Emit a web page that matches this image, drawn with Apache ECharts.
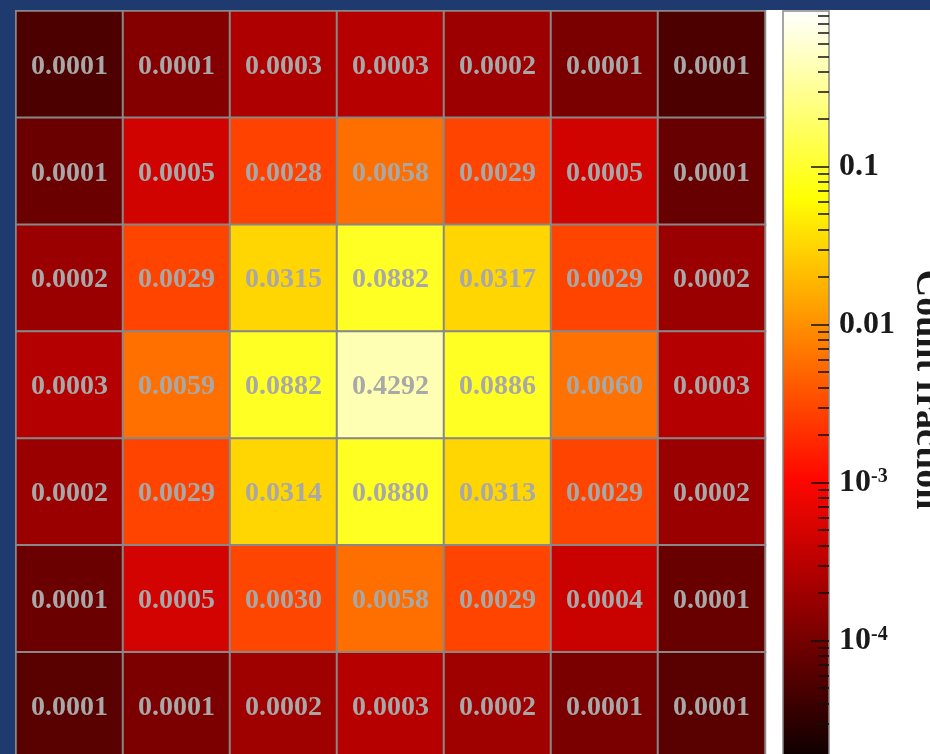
<!DOCTYPE html>
<html><head><meta charset="utf-8">
<script src="https://cdn.jsdelivr.net/npm/echarts@6/dist/echarts.min.js"></script>
<style>
html,body{margin:0;padding:0;width:930px;height:754px;overflow:hidden;background:#1e3a6e;}
#chart{position:absolute;left:15px;top:10px;width:915px;height:760px;background:#ffffff;}
</style></head><body><div id="chart"></div>
<script>
// Column / row categories (left to right, top to bottom)
const columns = ['1','2','3','4','5','6','7'];
const rows = ['1','2','3','4','5','6','7'];
// Count fraction per cell (estimated; labels show 4 decimals)
const row1 = [0.000052, 0.00013, 0.00026, 0.00029, 0.00019, 0.00011, 0.000053];
const row2 = [0.000086, 0.00047, 0.0028, 0.0058, 0.0029, 0.00047, 0.000080];
const row3 = [0.000185, 0.0029, 0.0315, 0.0882, 0.0317, 0.0029, 0.000185];
const row4 = [0.00028, 0.0059, 0.0882, 0.4292, 0.0886, 0.0060, 0.00028];
const row5 = [0.000185, 0.0029, 0.0314, 0.0880, 0.0313, 0.0029, 0.000185];
const row6 = [0.000084, 0.00048, 0.0030, 0.0058, 0.0029, 0.00041, 0.000082];
const row7 = [0.000064, 0.000115, 0.00020, 0.00029, 0.00020, 0.00011, 0.000064];
const tableRows = [row1, row2, row3, row4, row5, row6, row7];

// Colorbar: log10 range and tick labels
const cbMinExp = -4.749;
const cbMaxExp = -0.0146;
const majorTickExps = [-4, -3, -2, -1];
const majorTickLabels = ['10^-4', '10^-3', '0.01', '0.1'];
// "hot" colormap stops
const hotColors = ['#0b0000','#5e0000','#b20000','#ff0700','#ff5a00','#ffae00','#ffff04','#ffff82','#ffffff'];

const minorTickExps = [];
for (let n = -5; n <= -1; n++) {
  for (let k = 2; k <= 9; k++) {
    const v = n + Math.log10(k);
    if (v > cbMinExp + 0.06 && v < cbMaxExp) minorTickExps.push(v);
  }
}

const data = [];
tableRows.forEach((r, ri) => r.forEach((v, ci) => data.push([ci, ri, Math.log10(v), v])));

const serif = 'Liberation Serif';
const chart = echarts.init(document.getElementById('chart'), null, {renderer: 'canvas'});
chart.setOption({
  animation: false,
  grid: [
    {left: 1, top: 1, width: 749, height: 748, show: false},
    {left: 768, top: 1, width: 46, height: 748, show: true,
     backgroundColor: {type: 'linear', x: 0, y: 1, x2: 0, y2: 0,
       colorStops: hotColors.map((c, i) => ({offset: i / (hotColors.length - 1), color: c}))},
     borderColor: '#888', borderWidth: 1.5}
  ],
  xAxis: [
    {type: 'category', data: columns, gridIndex: 0, show: false},
    {type: 'value', gridIndex: 1, show: false, min: 1, max: 2}
  ],
  yAxis: [
    {type: 'category', data: rows, gridIndex: 0, show: false, inverse: true},
    {type: 'value', gridIndex: 1, position: 'right', min: cbMinExp, max: cbMaxExp,
     axisLine: {show: false, onZero: false}, splitLine: {show: false},
     axisTick: {show: true, inside: true, length: 18, customValues: majorTickExps,
                lineStyle: {color: '#111', width: 1.5}},
     axisLabel: {show: true, customValues: majorTickExps, margin: 10,
       formatter: function (v) {
         const i = majorTickExps.findIndex(e => Math.abs(e - v) < 1e-6);
         const t = i >= 0 ? majorTickLabels[i] : '';
         if (t.indexOf('^') >= 0) {
           const p = t.split('^');
           return '{m|' + p[0] + '}{s|' + p[1] + '}';
         }
         return '{m|' + t + '}';
       },
       rich: {
         m: {fontFamily: serif, fontWeight: 'bold', fontSize: 32, color: '#1a1a1a'},
         s: {fontFamily: serif, fontWeight: 'bold', fontSize: 20, color: '#1a1a1a', verticalAlign: 'top'}
       }}},
    {type: 'value', gridIndex: 1, position: 'right', min: cbMinExp, max: cbMaxExp,
     axisLine: {show: false, onZero: false}, splitLine: {show: false}, axisLabel: {show: false},
     axisTick: {show: true, inside: true, length: 11, customValues: minorTickExps,
                lineStyle: {color: '#111', width: 1.5}}}
  ],
  visualMap: {show: false, type: 'continuous', min: cbMinExp, max: cbMaxExp, dimension: 2,
              seriesIndex: 0, inRange: {color: hotColors}},
  series: [{
    type: 'heatmap', xAxisIndex: 0, yAxisIndex: 0, data: data,
    itemStyle: {borderColor: '#888', borderWidth: 2},
    label: {show: true, formatter: p => p.data[3].toFixed(4), color: '#a8a8a8',
            fontFamily: serif, fontWeight: 'bold', fontSize: 28, offset: [0, 2]},
    emphasis: {disabled: true}
  }],
  graphic: [{
    type: 'text', x: 893, y: 379.5, rotation: -Math.PI / 2,
    style: {text: 'Count fraction', font: 'bold 38px "Liberation Serif"', fill: '#1a1a1a',
            textAlign: 'center', textVerticalAlign: 'bottom'}
  }]
});
</script></body></html>
